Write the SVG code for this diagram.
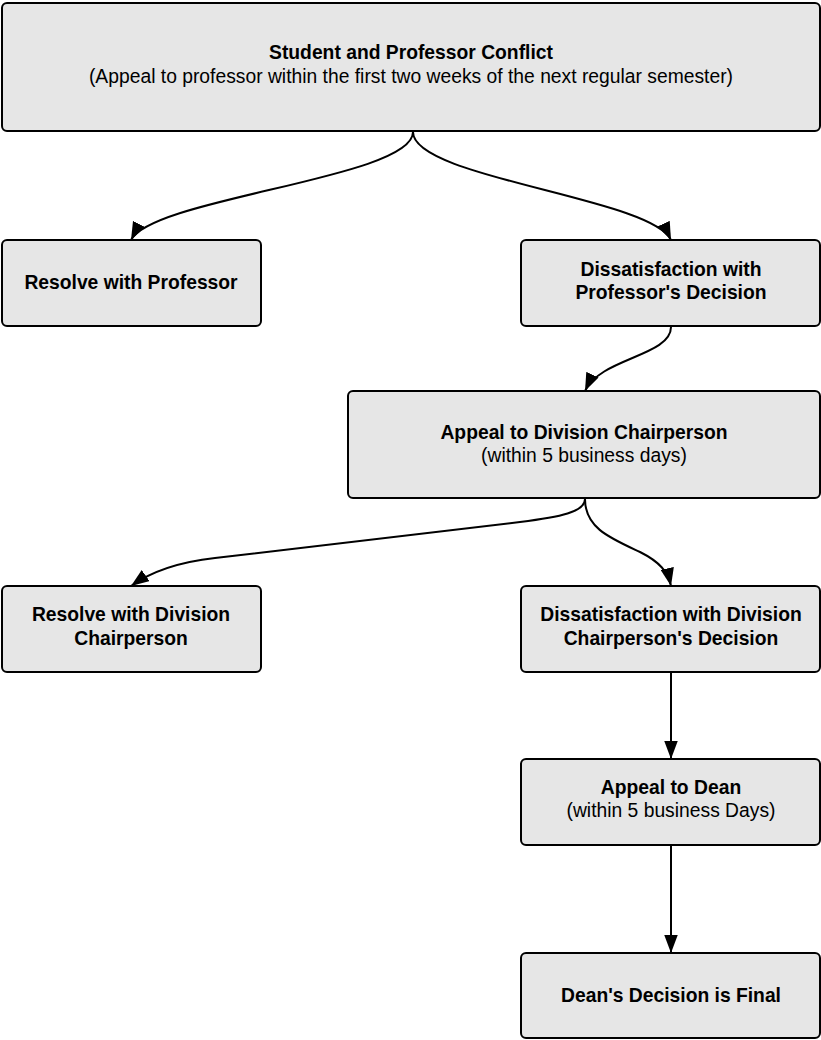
<svg xmlns="http://www.w3.org/2000/svg" width="821" height="1040" viewBox="0 0 821 1040">
<style>
.box{fill:#e6e6e6;stroke:#000;stroke-width:2}
.t{font-family:"Liberation Sans",Arial,sans-serif;font-size:19.3px;fill:#000;text-anchor:middle}
.b{font-weight:bold}
.c{fill:none;stroke:#000;stroke-width:2}
</style>
<defs>
<marker id="ah" markerUnits="userSpaceOnUse" markerWidth="18" markerHeight="14" viewBox="0 0 16 12" refX="16" refY="6" orient="auto">
<path d="M0,0 L16,6 L0,12 Z" fill="#000"/>
</marker>
</defs>
<rect width="821" height="1040" fill="#fff"/>
<g id="connectors">
<path class="c" marker-end="url(#ah)" d="M413,132 C413,178 152,198 131,240"/>
<path class="c" marker-end="url(#ah)" d="M413,132 C413,178 652,198 671,240"/>
<path class="c" marker-end="url(#ah)" d="M671,327 C671,356 600,358 585,391"/>
<path class="c" marker-end="url(#ah)" d="M585,499 C585,512 560,517 520,522 L215,558 C170,563 145,576 131,586"/>
<path class="c" marker-end="url(#ah)" d="M585,499 C585,528 610,538 640,552 C660,562 668,572 671,586"/>
<path class="c" marker-end="url(#ah)" d="M671,673 L671,759"/>
<path class="c" marker-end="url(#ah)" d="M671,846 L671,953"/>
</g>
<g id="n1"><rect class="box" x="2" y="3" width="818" height="128" rx="5"/>
<text class="t b" x="411" y="59">Student and Professor Conflict</text>
<text class="t" x="411" y="83">(Appeal to professor within the first two weeks of the next regular semester)</text></g>
<g id="n2"><rect class="box" x="2" y="240" width="259" height="86" rx="5"/>
<text class="t b" x="131" y="289">Resolve with Professor</text></g>
<g id="n3"><rect class="box" x="521" y="240" width="299" height="86" rx="5"/>
<text class="t b" x="671" y="276">Dissatisfaction with</text>
<text class="t b" x="671" y="299">Professor's Decision</text></g>
<g id="n4"><rect class="box" x="348" y="391" width="472" height="107" rx="5"/>
<text class="t b" x="584" y="439">Appeal to Division Chairperson</text>
<text class="t" x="584" y="462">(within 5 business days)</text></g>
<g id="n5"><rect class="box" x="2" y="586" width="259" height="86" rx="5"/>
<text class="t b" x="131" y="621">Resolve with Division</text>
<text class="t b" x="131" y="645">Chairperson</text></g>
<g id="n6"><rect class="box" x="521" y="586" width="299" height="86" rx="5"/>
<text class="t b" x="671" y="621">Dissatisfaction with Division</text>
<text class="t b" x="671" y="645">Chairperson's Decision</text></g>
<g id="n7"><rect class="box" x="521" y="759" width="299" height="86" rx="5"/>
<text class="t b" x="671" y="794">Appeal to Dean</text>
<text class="t" x="671" y="817">(within 5 business Days)</text></g>
<g id="n8"><rect class="box" x="521" y="953" width="299" height="85" rx="5"/>
<text class="t b" x="671" y="1002">Dean's Decision is Final</text></g>
</svg>
